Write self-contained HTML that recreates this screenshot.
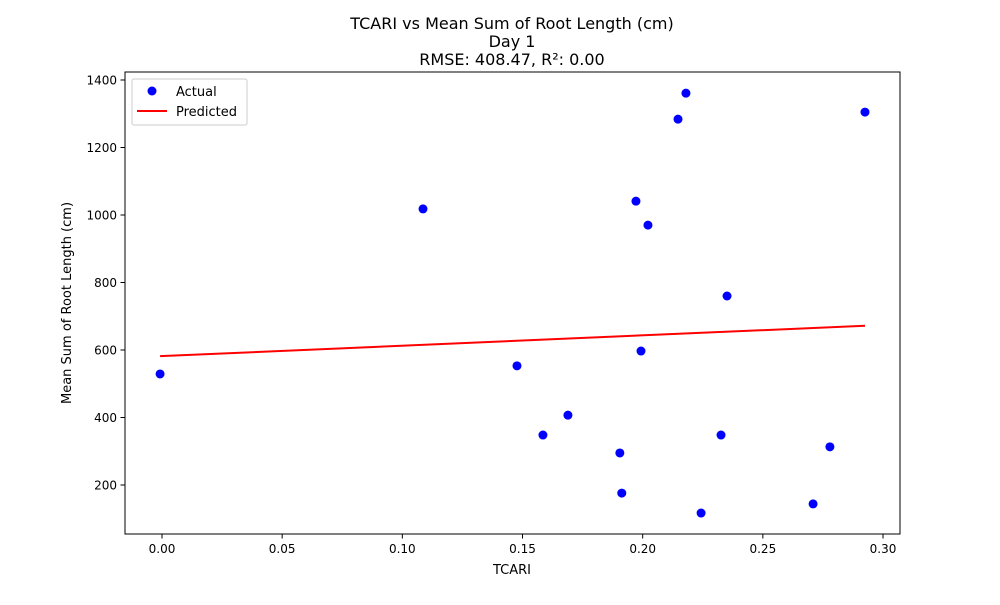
<!DOCTYPE html>
<html><head><meta charset="utf-8"><style>
body{margin:0;background:#fff;font-family:"Liberation Sans","DejaVu Sans",sans-serif;}
svg text{font-family:"DejaVu Sans","Liberation Sans",sans-serif;fill:#000;}
</style></head><body>
<svg id="chart" width="1000" height="600" xmlns="http://www.w3.org/2000/svg">
<rect width="1000" height="600" fill="#fff"/>
<g id="title" font-size="16" text-anchor="middle">
<text x="512" y="29">TCARI vs Mean Sum of Root Length (cm)</text>
<text x="512" y="47">Day 1</text>
<text x="512" y="65">RMSE: 408.47, R²: 0.00</text>
</g>
<g id="axes"></g>
<g id="marks"></g>
<rect x="125" y="72" width="775" height="462" fill="none" stroke="#000" stroke-width="1"/>
<text x="512" y="574" font-size="13" text-anchor="middle">TCARI</text>
<text transform="translate(71,303) rotate(-90)" font-size="13" text-anchor="middle">Mean Sum of Root Length (cm)</text>
<g>
<rect x="132" y="79" width="115" height="46" fill="#fff" stroke="#ccc" rx="2"/>
<circle cx="152" cy="91" r="4.5" fill="#0000ff"/>
<text x="176" y="96" font-size="13">Actual</text>
<line x1="137" y1="111" x2="167" y2="111" stroke="#ff0000" stroke-width="2"/>
<text x="176" y="116" font-size="13">Predicted</text>
</g>
</svg>
<script>
const xTicks=[0,0.05,0.10,0.15,0.20,0.25,0.30];
const xTickLabels=["0.00","0.05","0.10","0.15","0.20","0.25","0.30"];
const yTicks=[200,400,600,800,1000,1200,1400];
const tcari=[-0.0008,0.1086,0.1477,0.1585,0.1689,0.1905,0.1913,0.1972,0.1993,0.2022,0.2147,0.2180,0.2243,0.2326,0.2351,0.2709,0.2779,0.2925];
const rootLength=[529,1018,553,348,407,295,176,1041,597,970,1284,1361,117,348,760,144,313,1305];
const fitSlope=307;
const fitIntercept=582;
const NS="http://www.w3.org/2000/svg";
const xs=v=>162+(v/0.05)*120.17;
const ys=v=>552.5-v*0.3375;
function mk(t,a,p){const e=document.createElementNS(NS,t);for(const k in a)e.setAttribute(k,a[k]);p.appendChild(e);return e;}
const axes=document.getElementById('axes'),marks=document.getElementById('marks');
xTicks.forEach((v,i)=>{const x=xs(v);
const l=mk('line',{x1:x,x2:x,y1:534,y2:538.5,stroke:'#000'},axes);


const t=mk('text',{x:x,y:553,'font-size':12,'text-anchor':'middle'},axes);t.textContent=xTickLabels[i];

});
yTicks.forEach(v=>{const y=ys(v);
const l=mk('line',{x1:120.5,x2:125,y1:y,y2:y,stroke:'#000'},axes);


const t=mk('text',{x:117,y:y+4.5,'font-size':12,'text-anchor':'end'},axes);t.textContent=v;

});
const xmin=Math.min(...tcari),xmax=Math.max(...tcari);
const ln=mk('line',{x1:xs(xmin),y1:ys(fitIntercept+fitSlope*xmin),x2:xs(xmax),y2:ys(fitIntercept+fitSlope*xmax),stroke:'#ff0000','stroke-width':2},marks);


tcari.forEach((v,i)=>{const c=mk('circle',{cx:xs(v),cy:ys(rootLength[i]),r:4.5,fill:'#0000ff'},marks);

});
</script>
</body></html>
